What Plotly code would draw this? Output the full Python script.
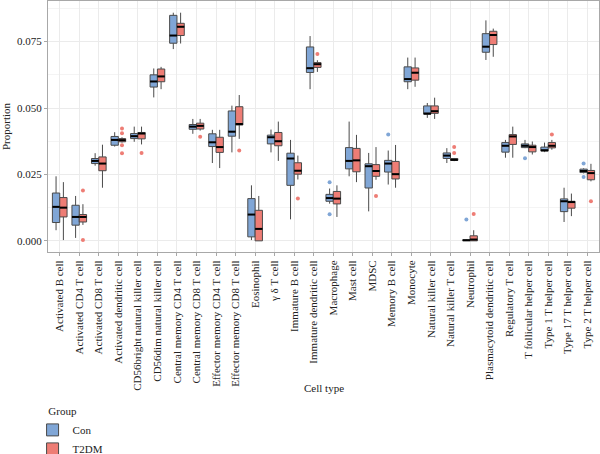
import plotly.graph_objects as go

cats = ["Activated B cell", "Activated CD4 T cell", "Activated CD8 T cell", "Activated dendritic cell",
        "CD56bright natural killer cell", "CD56dim natural killer cell", "Central memory CD4 T cell",
        "Central memory CD8 T cell", "Effector memory CD4 T cell", "Effector memory CD8 T cell",
        "Eosinophil", "γ δ T cell", "Immature B cell", "Immature dendritic cell", "Macrophage",
        "Mast cell", "MDSC", "Memory B cell", "Monocyte", "Natural killer cell", "Natural killer T cell",
        "Neutrophil", "Plasmacytoid dendritic cell", "Regulatory T cell", "T follicular helper cell",
        "Type 1 T helper cell", "Type 17 T helper cell", "Type 2 T helper cell"]

# Con group
con_lo  = [0.0040, 0.0011, 0.0283, 0.0355, 0.0373, 0.0540, 0.0722, 0.0403, 0.0293, 0.0333, 0.0003, 0.0333, 0.0081, 0.0571,
           0.0140, 0.0243, 0.0111, 0.0212, 0.0571, 0.0463, 0.0293, 0.0000, 0.0681, 0.0313, 0.0349, 0.0334, 0.0071, 0.0254]
con_q1  = [0.0069, 0.0059, 0.0291, 0.0360, 0.0385, 0.0579, 0.0744, 0.0420, 0.0355, 0.0394, 0.0015, 0.0365, 0.0209, 0.0634,
           0.0149, 0.0271, 0.0199, 0.0259, 0.0599, 0.0477, 0.0310, 0.0001, 0.0710, 0.0334, 0.0351, 0.0338, 0.0110, 0.0257]
con_med = [0.0128, 0.0090, 0.0301, 0.0380, 0.0394, 0.0600, 0.0773, 0.0430, 0.0371, 0.0411, 0.0099, 0.0390, 0.0310, 0.0650,
           0.0161, 0.0301, 0.0281, 0.0291, 0.0609, 0.0479, 0.0321, 0.0002, 0.0731, 0.0358, 0.0358, 0.0341, 0.0149, 0.0263]
con_q3  = [0.0180, 0.0134, 0.0310, 0.0393, 0.0404, 0.0625, 0.0849, 0.0438, 0.0403, 0.0489, 0.0159, 0.0398, 0.0330, 0.0730,
           0.0175, 0.0351, 0.0290, 0.0303, 0.0655, 0.0508, 0.0331, 0.0004, 0.0780, 0.0370, 0.0365, 0.0353, 0.0158, 0.0270]
con_hi  = [0.0243, 0.0169, 0.0330, 0.0409, 0.0430, 0.0649, 0.0859, 0.0459, 0.0418, 0.0509, 0.0209, 0.0419, 0.0380, 0.0771,
           0.0197, 0.0449, 0.0331, 0.0340, 0.0690, 0.0519, 0.0349, 0.0006, 0.0830, 0.0380, 0.0380, 0.0370, 0.0200, 0.0273]
con_out = [[], [], [], [], [], [], [], [], [], [], [], [], [], [],
           [0.0221, 0.0100], [], [], [0.0400], [], [], [], [0.0080], [], [], [0.0311], [], [], [0.0291, 0.0240]]

# T2DM group
t2_lo  = [0.0003, 0.0060, 0.0200, 0.0370, 0.0363, 0.0571, 0.0743, 0.0415, 0.0274, 0.0384, 0.0000, 0.0301, 0.0231, 0.0636,
          0.0090, 0.0221, 0.0230, 0.0200, 0.0580, 0.0459, 0.0300, 0.0000, 0.0693, 0.0313, 0.0325, 0.0343, 0.0093, 0.0224]
t2_q1  = [0.0090, 0.0071, 0.0264, 0.0373, 0.0384, 0.0599, 0.0773, 0.0421, 0.0333, 0.0436, 0.0000, 0.0358, 0.0251, 0.0653,
          0.0139, 0.0260, 0.0243, 0.0233, 0.0605, 0.0480, 0.0303, 0.0000, 0.0739, 0.0363, 0.0335, 0.0350, 0.0123, 0.0230]
t2_med = [0.0125, 0.0090, 0.0291, 0.0379, 0.0404, 0.0619, 0.0806, 0.0433, 0.0353, 0.0440, 0.0045, 0.0375, 0.0264, 0.0665,
          0.0159, 0.0303, 0.0263, 0.0251, 0.0633, 0.0488, 0.0305, 0.0005, 0.0775, 0.0393, 0.0353, 0.0358, 0.0146, 0.0255]
t2_q3  = [0.0163, 0.0099, 0.0316, 0.0385, 0.0408, 0.0647, 0.0819, 0.0443, 0.0390, 0.0505, 0.0115, 0.0408, 0.0294, 0.0671,
          0.0186, 0.0348, 0.0287, 0.0299, 0.0651, 0.0508, 0.0310, 0.0019, 0.0789, 0.0400, 0.0360, 0.0370, 0.0149, 0.0265]
t2_hi  = [0.0221, 0.0138, 0.0362, 0.0390, 0.0430, 0.0655, 0.0859, 0.0459, 0.0418, 0.0549, 0.0169, 0.0449, 0.0321, 0.0680,
          0.0209, 0.0399, 0.0353, 0.0361, 0.0690, 0.0539, 0.0312, 0.0040, 0.0799, 0.0430, 0.0374, 0.0380, 0.0178, 0.0290]
t2_out = [[], [0.0190, 0.0003], [], [0.0423, 0.0405, 0.0360, 0.0330], [0.0331], [], [], [0.0392], [], [0.0340], [], [],
          [0.0159], [0.0703], [], [], [0.0169], [], [], [], [0.0353, 0.0331], [0.0101], [], [], [], [0.0400], [], [0.0149]]

groups = [
    ("Con", "#80A6D6", con_lo, con_q1, con_med, con_q3, con_hi, con_out, -1),
    ("T2DM", "#EE7D75", t2_lo, t2_q1, t2_med, t2_q3, t2_hi, t2_out, 1),
]

FONT = "Liberation Serif"
BW = 0.375
fig = go.Figure()
for name, col, lo, q1, med, q3, hi, out, side in groups:
    pos = [i + side * BW / 2 for i in range(len(cats))]
    fig.add_trace(go.Box(
        name=name, x=pos, q1=q1, median=med, q3=q3, lowerfence=lo, upperfence=hi,
        width=BW, fillcolor=col, line=dict(color="#4a4a4a", width=1), boxpoints=False,
        whiskerwidth=0, hoverinfo="skip"))
for name, col, lo, q1, med, q3, hi, out, side in groups:
    pos = [i + side * BW / 2 for i in range(len(cats))]
    mx, my = [], []
    for p, m in zip(pos, med):
        mx += [p - BW / 2, p + BW / 2, None]
        my += [m, m, None]
    fig.add_trace(go.Scatter(x=mx, y=my, mode="lines", line=dict(color="black", width=2),
                             showlegend=False, hoverinfo="skip"))
    ox, oy = [], []
    for p, vals in zip(pos, out):
        for v in vals:
            ox.append(p)
            oy.append(v)
    fig.add_trace(go.Scatter(x=ox, y=oy, mode="markers", marker=dict(color=col, size=4),
                             showlegend=False, hoverinfo="skip"))

fig.update_layout(
    width=600, height=454,
    margin=dict(l=48, r=1, t=1, b=202, autoexpand=False),
    plot_bgcolor="white", paper_bgcolor="white",
    font=dict(family=FONT, size=11, color="#222"),
    boxmode="overlay",
    legend=dict(x=-0.028, y=-0.845, xanchor="left", yanchor="bottom",
                title=dict(text="\u00a0\u00a0\u00a0\u00a0\u00a0Group", side="top", font=dict(size=11)),
                font=dict(size=11), tracegroupgap=0, itemwidth=30),
    annotations=[dict(text="Cell type", xref="paper", yref="paper", x=0.5, y=-0.542,
                      xanchor="center", yanchor="middle", showarrow=False, font=dict(size=11))],
    xaxis=dict(
        tickmode="array", tickvals=list(range(len(cats))), ticktext=cats,
        range=[-0.6, len(cats) - 0.4], tickangle=-90, automargin=False,
        showgrid=True, gridcolor="#ebebeb", gridwidth=1, zeroline=False,
        showline=True, mirror=True, linecolor="#a8a8a8", linewidth=1,
        ticks="outside", ticklen=3, tickcolor="#a8a8a8",
        tickfont=dict(size=11, color="#222"),
    ),
    yaxis=dict(
        range=[-0.0042, 0.0903], tickvals=[0, 0.025, 0.05, 0.075], tickformat=".3f", automargin=False,
        showgrid=True, gridcolor="#ebebeb", gridwidth=1, zeroline=False,
        minor=dict(tickvals=[0.0125, 0.0375, 0.0625, 0.0875], showgrid=True, gridcolor="#f4f4f4", gridwidth=0.5),
        showline=True, mirror=True, linecolor="#a8a8a8", linewidth=1,
        ticks="outside", ticklen=3, tickcolor="#a8a8a8",
        tickfont=dict(size=11, color="#222"),
        title=dict(text="Proportion", font=dict(size=11), standoff=4),
    ),
)

fig.write_html("out.html")
